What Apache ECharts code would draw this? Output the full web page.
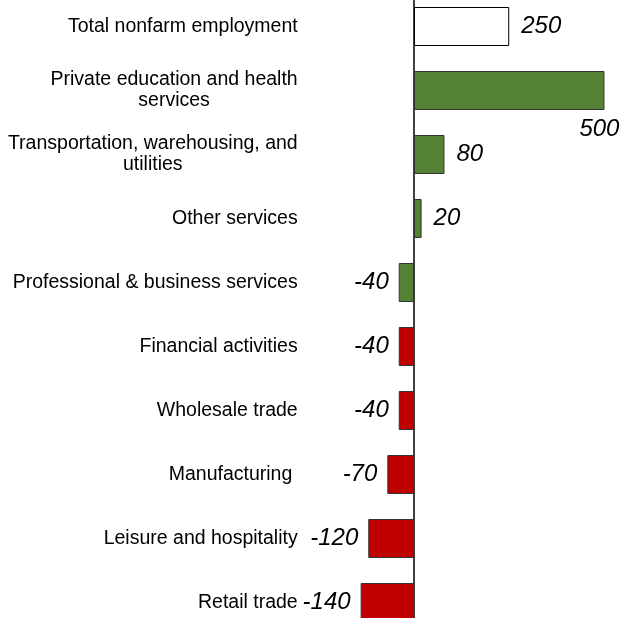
<!DOCTYPE html>
<html>
<head>
<meta charset="utf-8">
<script src="https://cdn.jsdelivr.net/npm/echarts@6/dist/echarts.min.js"></script>
<style>
html,body{margin:0;padding:0;background:#fff;}
#chart{width:625px;height:618px;}
</style>
</head>
<body>
<div id="chart"></div>
<script>
const categories = [
  'Total nonfarm employment',
  'Private education and health\nservices',
  'Transportation, warehousing, and\nutilities',
  'Other services',
  'Professional & business services',
  'Financial activities',
  'Wholesale trade',
  'Manufacturing ',
  'Leisure and hospitality',
  'Retail trade'
];
const values = [250, 500, 80, 20, -40, -40, -40, -70, -120, -140];
const groups = ['total', 'services', 'services', 'services', 'services', 'goods', 'goods', 'goods', 'goods', 'goods'];

const groupColors = { total: '#ffffff', services: '#548235', goods: '#c00000' };
const maxVal = Math.max(...values);

const seriesData = values.map((v, i) => {
  let label;
  if (v === maxVal) {
    label = { position: ['100%', '100%'], align: 'right', verticalAlign: 'top', offset: [15, 7] };
  } else if (v >= 0) {
    label = { position: 'right', distance: 12 };
  } else {
    label = { position: 'left', distance: 10 };
  }
  return {
    value: v,
    itemStyle: {
      color: groupColors[groups[i]],
      borderColor: groups[i] === 'total' ? '#000' : '#333',
      borderWidth: 1
    },
    label: label
  };
});

const chart = echarts.init(document.getElementById('chart'), null, { renderer: 'canvas' });
chart.setOption({
  animation: false,
  backgroundColor: '#fff',
  grid: { left: 299.7, width: 320, top: -5.5, height: 640, containLabel: false, outerBoundsMode: 'none' },
  xAxis: {
    type: 'value', min: -300, max: 540, show: false
  },
  yAxis: {
    type: 'category',
    data: categories,
    inverse: true,
    axisLine: { show: true, onZero: true, lineStyle: { color: '#000', width: 1.5 } },
    axisTick: { show: false },
    splitLine: { show: false },
    axisLabel: {
      margin: 2,
      color: '#000',
      fontFamily: 'Liberation Sans, Arial, sans-serif',
      fontSize: 19.5,
      formatter: function (val) {
        return val.split('\n').map(s => '{c|' + s + '}').join('\n');
      },
      rich: {
        c: { align: 'center', fontSize: 19.5, lineHeight: 21, color: '#000', fontFamily: 'Liberation Sans, Arial, sans-serif' }
      }
    }
  },
  series: [{
    type: 'bar',
    data: seriesData,
    barWidth: 39,
    label: {
      show: true,
      color: '#000',
      fontStyle: 'italic',
      fontSize: 24,
      fontFamily: 'Liberation Sans, Arial, sans-serif'
    }
  }]
});
</script>
</body>
</html>
